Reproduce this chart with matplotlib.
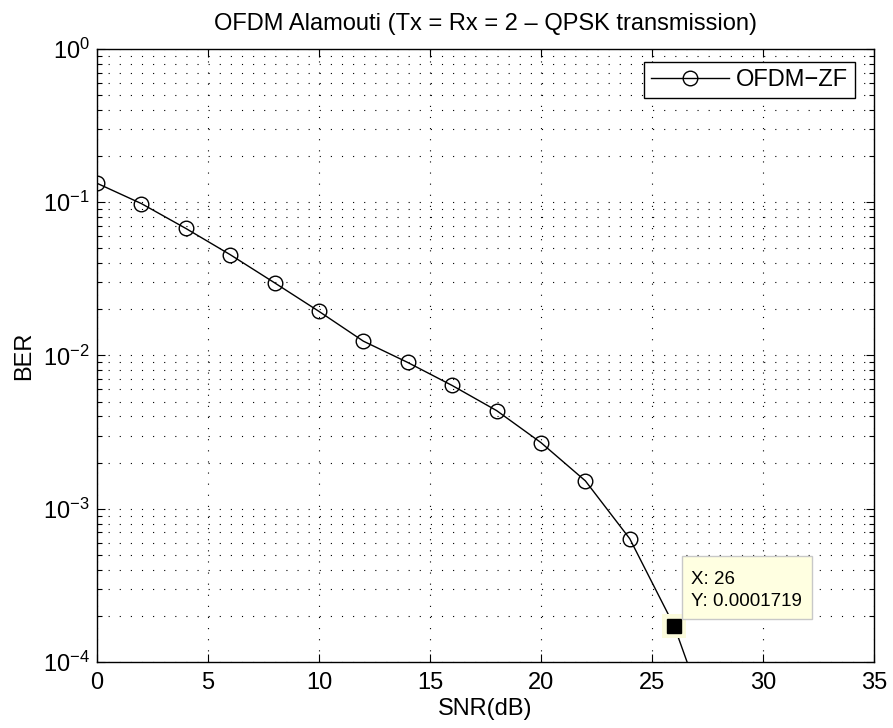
import matplotlib
matplotlib.use("Agg")
import matplotlib.pyplot as plt
from matplotlib.patches import Rectangle
from matplotlib.ticker import LogLocator, NullFormatter, MultipleLocator
from matplotlib.transforms import ScaledTranslation

plt.rcParams["font.family"] = ["Liberation Sans", "DejaVu Sans"]
plt.rcParams["mathtext.fontset"] = "custom"
plt.rcParams["mathtext.rm"] = "Liberation Sans"
plt.rcParams["mathtext.it"] = "Liberation Sans:italic"
plt.rcParams["mathtext.bf"] = "Liberation Sans:bold"

# BER vs SNR for Alamouti 2x2 OFDM, zero-forcing receiver
snr_db = [0, 2, 4, 6, 8, 10, 12, 14, 16, 18, 20, 22, 24, 26, 28]
ber = [0.133, 0.098, 0.0675, 0.0455, 0.0298, 0.0194, 0.0124, 0.0090,
       0.00637, 0.00437, 0.00270, 0.00152, 0.000637, 0.0001719, 0.0000266]

tip_x, tip_y = 26, 0.0001719

FS = 17

fig = plt.figure(figsize=(8.93, 7.28), dpi=100)
ax = fig.add_axes([0.1086, 0.0907, 0.8701, 0.8420])

ax.plot(snr_db, ber, color="black", linewidth=1.0, marker="o",
        markersize=10.5, markerfacecolor="none", markeredgecolor="black",
        markeredgewidth=1.0, label="OFDM\u2212ZF")

ax.set_yscale("log")
ax.set_xlim(0, 35)
ax.set_ylim(1e-4, 1)
ax.xaxis.set_major_locator(MultipleLocator(5))
ax.yaxis.set_major_locator(LogLocator(base=10, numticks=10))
ax.yaxis.set_minor_locator(LogLocator(base=10, subs=range(2, 10), numticks=20))
ax.yaxis.set_minor_formatter(NullFormatter())

dots = (0, (1, 9))
ax.grid(True, which="major", axis="both", color="black", linestyle=dots, linewidth=0.8)
ax.grid(True, which="minor", axis="y", color="black", linestyle=dots, linewidth=0.8)

ax.tick_params(which="both", direction="in", top=True, right=True,
               labelsize=FS, width=0.8)
ax.tick_params(which="major", length=6)
ax.tick_params(which="minor", length=3.5)
ax.tick_params(axis="x", pad=7)
ax.tick_params(axis="y", pad=5)
for s in ax.spines.values():
    s.set_linewidth(1.0)

ax.set_title("OFDM Alamouti (Tx = Rx = 2 \u2013 QPSK transmission)", fontsize=FS, pad=13.5)
ax.set_xlabel("SNR(dB)", fontsize=FS, labelpad=3)
ax.set_ylabel("BER", fontsize=FS, labelpad=6)

leg = ax.legend(loc="upper right", bbox_to_anchor=(0.9755, 0.979), fontsize=FS,
                fancybox=False, framealpha=1, edgecolor="black",
                handlelength=3.3, borderpad=0.3, handletextpad=0.3,
                borderaxespad=0)
leg.get_frame().set_linewidth(1.0)

# data cursor: highlighted point plus a label box offset up-right of it
ax.plot([tip_x], [tip_y], marker="s", markersize=17, color="#fbfbdc",
        markeredgewidth=0, zorder=5)
ax.plot([tip_x], [tip_y], marker="s", markersize=9.5, color="black", zorder=6)

# inches, measured from the data point
tip_trans = fig.dpi_scale_trans + ScaledTranslation(tip_x, tip_y, ax.transData)
ax.add_patch(Rectangle((0.075, 0.07), 1.30, 0.63, transform=tip_trans,
                       facecolor="#ffffe1", edgecolor="#c8c8c8", linewidth=1.0,
                       zorder=7, clip_on=False))
ax.text(0.165, 0.42, f"X: {tip_x}", transform=tip_trans, fontsize=13.5,
        va="baseline", ha="left", zorder=8)
ax.text(0.165, 0.20, f"Y: {tip_y:.7f}", transform=tip_trans, fontsize=13.5,
        va="baseline", ha="left", zorder=8)

fig.savefig("out.png", dpi=100)
